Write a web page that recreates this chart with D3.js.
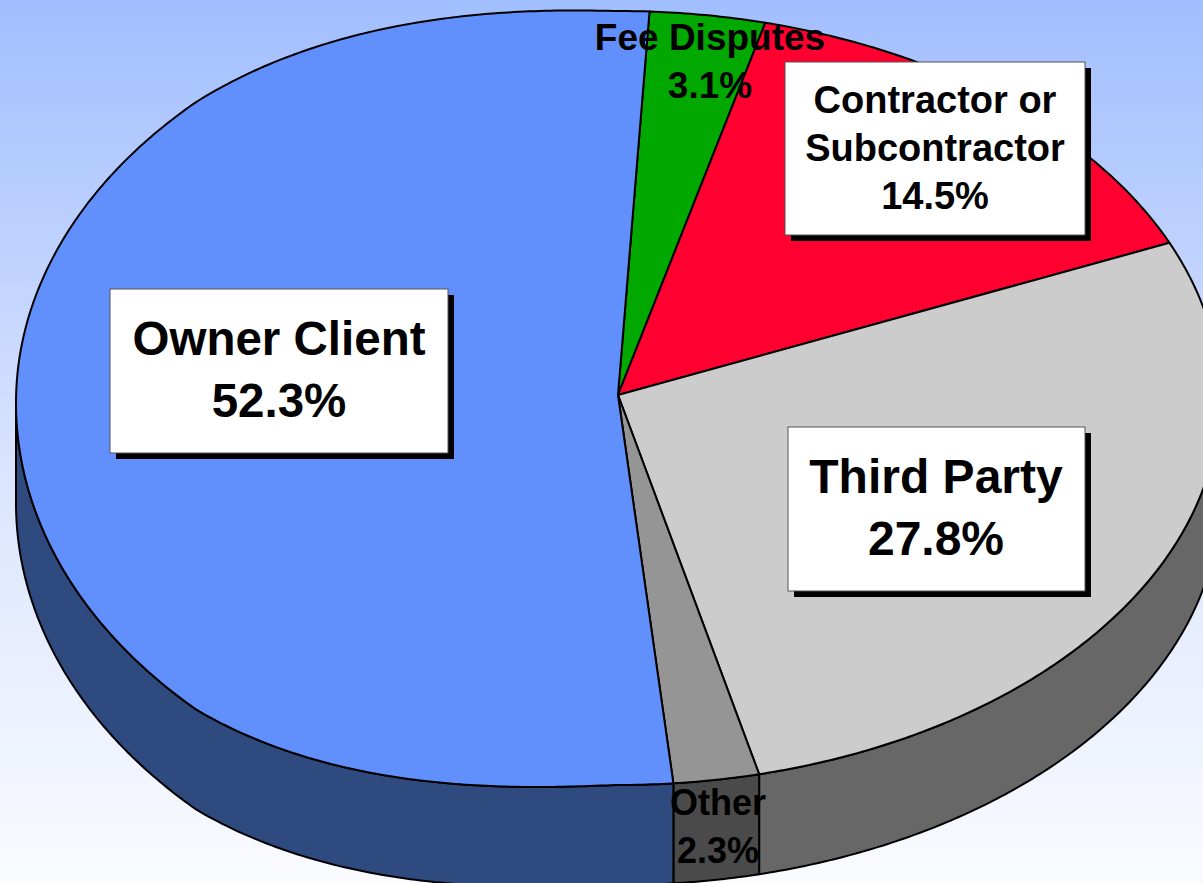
<!DOCTYPE html>
<html>
<head>
<meta charset="utf-8">
<script src="https://cdn.jsdelivr.net/npm/d3@7"></script>
<style>
  html, body { margin: 0; padding: 0; overflow: hidden; }
  svg { display: block; }
</style>
</head>
<body>
<svg id="chart"></svg>
<script>
// slice data, clockwise from the top
const categories = ["Fee Disputes", "Contractor or Subcontractor", "Third Party", "Other", "Owner Client"];
const shares = [3.1, 14.5, 27.8, 2.3, 52.3];
const labelLines = [["Fee Disputes"], ["Contractor or", "Subcontractor"], ["Third Party"], ["Other"], ["Owner Client"]];

const topColors = ["#00a800", "#ff0030", "#cccccc", "#959595", "#6190fc"];
const sideColors = ["#005400", "#80001a", "#676767", "#4a4a4a", "#2f4a7f"];

// label placement (box x, y, w, h / text centre and first baseline)
const labelLayout = [
    { box: null, cx: 710, y0: 50, size: 37, gap: 48 },
    { box: [785, 62, 300, 173], cx: 935, y0: 113, size: 38, gap: 48 },
    { box: [788, 427, 297, 164], cx: 936, y0: 493, size: 48, gap: 62 },
    { box: null, cx: 718, y0: 815, size: 36, gap: 48 },
    { box: [110, 289, 338, 164], cx: 279, y0: 355, size: 47.5, gap: 62 }
];

const W = 1203, H = 883;
const cx = 618, cy = 398, rx = 602, ry = 387, depth = 100;
const center = [618, 395];
const start = 3 * Math.PI / 180;

const svg = d3.select("#chart").attr("width", W).attr("height", H);

const defs = svg.append("defs");
const grad = defs.append("linearGradient").attr("id", "bg")
    .attr("x1", 0).attr("y1", 0).attr("x2", 0).attr("y2", 1);
grad.append("stop").attr("offset", "0%").attr("stop-color", "#a1befe");
grad.append("stop").attr("offset", "55%").attr("stop-color", "#dbe5fe");
grad.append("stop").attr("offset", "100%").attr("stop-color", "#fafbff");
svg.append("rect").attr("width", W).attr("height", H).attr("fill", "url(#bg)");

// outline of the tilted disc, slightly bulged on the near-left side
function proj(t) {
    const ex = Math.sin(t), ey = -Math.cos(t);
    const w = Math.pow(Math.min(1, Math.max(0, -ex) / 0.7), 1.3);
    const k = ey < 0 ? 0.09 : 0.11;
    return [cx + rx * ex, cy + 5 * w + ry * ey * (1 + k * w)];
}

function arcPoints(a0, a1) {
    const n = Math.max(2, Math.ceil((a1 - a0) / (Math.PI / 360)));
    return d3.range(n + 1).map(i => proj(a0 + (a1 - a0) * i / n));
}

const data = categories.map((c, i) => ({ name: c, value: shares[i], i }));
const pie = d3.pie().sort(null).value(d => d.value)
    .startAngle(start).endAngle(start + 2 * Math.PI);
const arcs = pie(data);

const line = d3.line();

// side walls (front half only)
const sides = svg.append("g");
arcs.forEach(a => {
    const a0 = Math.max(a.startAngle, Math.PI / 2);
    const a1 = Math.min(a.endAngle, 3 * Math.PI / 2);
    if (a1 <= a0) return;
    const topPts = arcPoints(a0, a1);
    const botPts = topPts.map(p => [p[0], p[1] + depth]).reverse();
    sides.append("path")
        .attr("d", line(topPts.concat(botPts)) + "Z")
        .attr("fill", sideColors[a.data.i])
        .attr("stroke", "#000")
        .attr("stroke-width", 2)
        .attr("stroke-linejoin", "round");
});

// top faces
svg.append("g").selectAll("path")
    .data(arcs)
    .join("path")
    .attr("d", a => line([center].concat(arcPoints(a.startAngle, a.endAngle))) + "Z")
    .attr("fill", a => topColors[a.data.i])
    .attr("stroke", "#000")
    .attr("stroke-width", 2)
    .attr("stroke-linejoin", "round");

// labels
const fmt = d => d3.format(".1f")(d) + "%";
const labels = svg.append("g")
    .style("font-family", "'Liberation Sans', Arial, sans-serif")
    .style("font-weight", "bold");

arcs.forEach(a => {
    const L = labelLayout[a.data.i];
    if (L.box) {
        const [bx, by, bw, bh] = L.box;
        labels.append("rect").attr("x", bx + 6).attr("y", by + 6)
            .attr("width", bw).attr("height", bh).attr("fill", "#000");
        labels.append("rect").attr("x", bx).attr("y", by)
            .attr("width", bw).attr("height", bh)
            .attr("fill", "#fff").attr("stroke", "#555").attr("stroke-width", 1);
    }
    const lines = labelLines[a.data.i].concat([fmt(a.data.value)]);
    lines.forEach((txt, j) => {
        labels.append("text")
            .attr("x", L.cx)
            .attr("y", L.y0 + j * L.gap)
            .attr("text-anchor", "middle")
            .style("font-size", L.size + "px")
            .attr("fill", "#000")
            .text(txt);
    });
});
</script>
</body>
</html>
